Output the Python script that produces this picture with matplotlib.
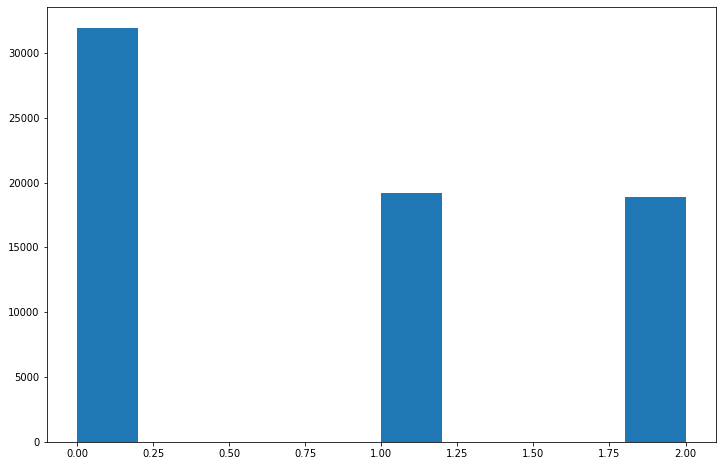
import matplotlib
matplotlib.use("Agg")
import matplotlib.pyplot as plt

# class values and how often each occurs
values = [0, 1, 2]
counts = [31950, 19220, 18920]

fig = plt.figure(figsize=(722 / 72, 466 / 72), dpi=72)
ax = fig.add_axes([46.5 / 722, 24 / 466, 669.5 / 722, 435 / 466])
ax.hist(values, bins=10, weights=counts, color="#1f77b4")
ax.tick_params(labelsize=10)
fig.savefig("out.png", dpi=72)
